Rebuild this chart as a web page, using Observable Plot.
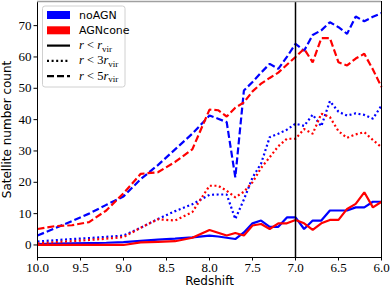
<!DOCTYPE html>
<html><head><meta charset="utf-8">
<script src="https://cdn.jsdelivr.net/npm/d3@7"></script>
<script src="https://cdn.jsdelivr.net/npm/@observablehq/plot@0.6"></script>
<style>
body{margin:0;background:#fff}
#chart svg{display:block}
</style>
</head><body><div id="chart"></div>
<script>
const redshift = [10, 9.8, 9.6, 9.4, 9.2, 9.0, 8.8, 8.6, 8.4, 8.2, 8.0, 7.9, 7.8, 7.7, 7.6, 7.5, 7.4, 7.3, 7.2, 7.1, 7.0, 6.9, 6.8, 6.7, 6.6, 6.5, 6.4, 6.3, 6.2, 6.1, 6.0];

const noAGN_r1 = [0.3, 0.4, 0.5, 0.6, 0.7, 0.9, 1.3, 1.7, 2.0, 2.4, 3.0, 2.7, 2.3, 1.9, 4.0, 6.9, 7.8, 5.8, 5.8, 8.8, 8.8, 5.1, 7.8, 7.8, 11, 11, 11, 12, 12, 13.8, 13.8];
const noAGN_r3 = [1.1, 1.5, 1.9, 2.2, 2.6, 3.0, 5.5, 8.3, 10.8, 13.0, 16.0, 16.1, 16.1, 8.3, 14.5, 21.5, 26, 34.4, 35.5, 36.8, 38.7, 38.0, 41.6, 37.9, 45.9, 42.5, 41.3, 42, 41.5, 40.3, 44.5];
const noAGN_r5 = [3.0, 5.3, 7.6, 10.0, 12.8, 15.5, 21.0, 25.5, 30.5, 35.5, 41.3, 40.3, 39.2, 21.6, 49.3, 52, 55, 57.8, 56.2, 60, 64.2, 62, 67, 68.5, 71.1, 69.5, 67.4, 72.9, 71.4, 72.8, 74];

const AGNcone_r1 = [0, 0, 0, 0, 0, 0, 0.8, 1.0, 1.2, 2.3, 4.8, 3.9, 3.0, 3.8, 3.0, 6.2, 6.7, 5.1, 6.9, 6.9, 8.0, 6.9, 4.8, 6.9, 8.0, 8.0, 11.5, 13.1, 16.8, 12.0, 13.8];
const AGNcone_r3 = [0.5, 0.9, 1.2, 1.6, 2.0, 2.5, 5.5, 8.2, 7.8, 10.5, 18.9, 18.9, 17.3, 15.2, 17.0, 20.0, 24.6, 28.0, 31.5, 33.9, 33.9, 37.0, 35.5, 41.9, 40.8, 36.3, 34.2, 35.3, 36.0, 33.5, 31.2];
const AGNcone_r5 = [5.1, 6.0, 6.3, 7.3, 11.0, 16.5, 22.7, 23.2, 26.5, 30.5, 43.2, 43.0, 41.0, 43.8, 45.5, 49.0, 51.5, 53.3, 55.0, 57.5, 60.0, 62.6, 58.3, 66.0, 66.0, 58.3, 57.3, 59.5, 61.0, 56.0, 50.4];

const xTicks = [10.0, 9.5, 9.0, 8.5, 8.0, 7.5, 7.0, 6.5, 6.0];
const yTicks = [0, 10, 20, 30, 40, 50, 60, 70];
const markerRedshift = [7.0];

const models = ["noAGN", "AGNcone"];
const modelColors = {noAGN: "#0000ff", AGNcone: "#ff0000"};
const radiusLabels = ["1", "3", "5"];
const radiusDash = {"1": null, "3": "2,2.6", "5": "7,3"};

const series = [
  {model: "noAGN", radius: "1", values: noAGN_r1},
  {model: "noAGN", radius: "3", values: noAGN_r3},
  {model: "noAGN", radius: "5", values: noAGN_r5},
  {model: "AGNcone", radius: "1", values: AGNcone_r1},
  {model: "AGNcone", radius: "3", values: AGNcone_r3},
  {model: "AGNcone", radius: "5", values: AGNcone_r5}
];

const sans = "DejaVu Sans";
const serif = "Liberation Serif";

const lineMarks = series.map(s => Plot.line(
  redshift.map((z, i) => ({z, v: s.values[i]})),
  {x: "z", y: "v", stroke: modelColors[s.model], strokeWidth: 2.2,
   strokeDasharray: radiusDash[s.radius], strokeLinejoin: "miter", strokeLinecap: "butt"}
));

const chart = Plot.plot({
  width: 390, height: 289,
  marginLeft: 37, marginRight: 9, marginTop: 1, marginBottom: 32,
  style: {fontSize: "12px", background: "white", overflow: "visible"},
  x: {domain: [10, 6], label: null},
  y: {domain: [-4, 77.7], label: null},
  marks: [
    ...lineMarks,
    Plot.ruleX(markerRedshift, {stroke: "black", strokeWidth: 1.5}),
    Plot.frame({stroke: "black", strokeWidth: 1}),
    Plot.ruleY([77.7], {stroke: "#a0a0a0", strokeWidth: 1.5}),
    Plot.axisX({ticks: xTicks, tickFormat: d3.format(".1f"), tickSize: 3.5, tickPadding: 1.5, label: null}),
    Plot.axisY({ticks: yTicks, tickSize: 3.5, tickPadding: 2.5, label: null}),
    Plot.text(["Redshift"], {frameAnchor: "bottom", dy: 27, fontFamily: sans, fontSize: 12, fill: "black"}),
    Plot.text(["Satellite number count"], {frameAnchor: "left", textAnchor: "middle", dx: -30, rotate: -90, fontFamily: sans, fontSize: 12, fill: "black"})
  ]
});

const svg = d3.select(chart);
const tickTexts = new Set([...xTicks.map(d3.format(".1f")), ...yTicks.map(String)]);
svg.selectAll("text").each(function() {
  if (tickTexts.has(this.textContent.trim())) {
    this.style.setProperty("font-family", "'Liberation Serif', serif", "important");
    this.style.setProperty("font-size", "13px", "important");
  }
});

// Legend
const lg = svg.append("g").attr("transform", "translate(42.5,6)").attr("text-anchor", "start");
lg.append("rect").attr("x", 0).attr("y", 0).attr("width", 82.5).attr("height", 81)
  .attr("rx", 2.5).attr("fill", "white").attr("fill-opacity", 0.8).attr("stroke", "#d0d0d0").attr("stroke-width", 1);
const rowY = [9, 24.3, 39.6, 54.9, 70.2];
models.forEach((m, i) => {
  lg.append("rect").attr("x", 4.5).attr("y", rowY[i] - 4).attr("width", 23).attr("height", 8).attr("fill", modelColors[m]);
  lg.append("text").attr("x", 36.5).attr("y", rowY[i] + 4).attr("text-anchor", "start")
    .attr("font-family", sans).attr("font-size", 11).attr("fill", "black").text(m);
});
radiusLabels.forEach((r, j) => {
  const y = rowY[j + 2];
  const ln = lg.append("line").attr("x1", 4.5).attr("x2", 27.5).attr("y1", y).attr("y2", y)
    .attr("stroke", "black").attr("stroke-width", 2.2);
  if (radiusDash[r]) ln.attr("stroke-dasharray", radiusDash[r]);
  const t = lg.append("text").attr("x", 36.5).attr("y", y + 3.5).attr("text-anchor", "start")
    .attr("font-family", serif).attr("font-size", 12.5).attr("fill", "black");
  t.append("tspan").attr("font-style", "italic").text("r");
  t.append("tspan").text(" < " + (r === "1" ? "" : r));
  t.append("tspan").attr("font-style", "italic").text("r");
  t.append("tspan").attr("font-size", 9).attr("dy", 2.5).text("vir");
});

document.getElementById("chart").appendChild(chart);
</script>
</body></html>
